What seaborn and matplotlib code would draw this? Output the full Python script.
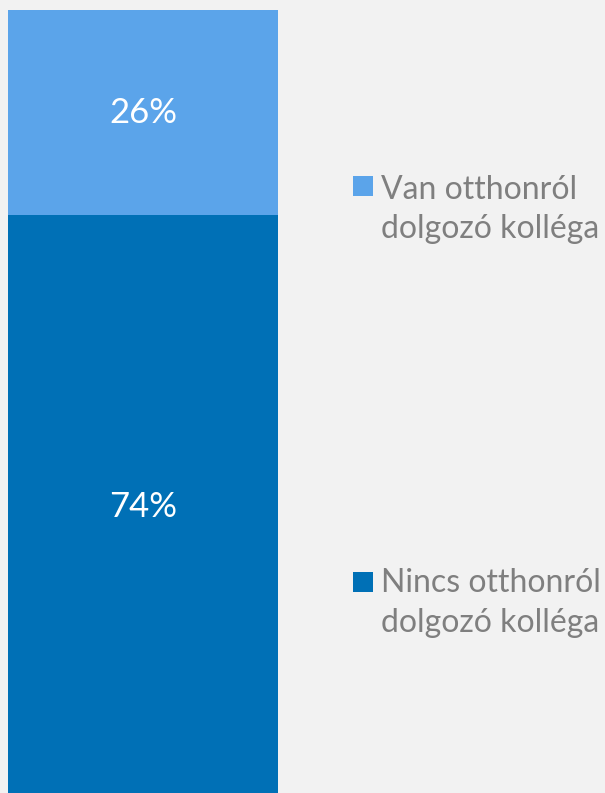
"""Single stacked bar: share of workplaces with a colleague working from home."""
import matplotlib
matplotlib.use('Agg')
import matplotlib.pyplot as plt
import seaborn as sns
from matplotlib.patches import Rectangle

# ---------------------------------------------------------------------------
# Data
# ---------------------------------------------------------------------------
categories = ['Nincs otthonról dolgozó kolléga', 'Van otthonról dolgozó kolléga']
legend_lines = [['Nincs otthonról', 'dolgozó kolléga'], ['Van otthonról', 'dolgozó kolléga']]
shares = [74, 26]          # percent, bottom -> top
colors = ['#0070B6', '#5BA4EA']

BG = '#F2F2F2'
TEXT_GREY = '#7F7F7F'
W, H = 605, 793

sns.set_theme(style='white')
plt.rcParams['font.family'] = ['Lato', 'DejaVu Sans']

fig = plt.figure(figsize=(W / 100, H / 100), dpi=100, facecolor=BG)
# bar occupies x 8..278 px, top at y=10 px, runs past bottom edge
ax = fig.add_axes([8 / W, 0, 270 / W, 1 - 10 / H])
ax.set_facecolor(BG)

# stacked: draw cumulative totals from the top segment down
cum = [sum(shares[:i + 1]) for i in range(len(shares))]
for i in reversed(range(len(shares))):
    sns.barplot(x=['all'], y=[cum[i]], color=colors[i], saturation=1,
                width=1, linewidth=0, ax=ax)

ax.set_xlim(-0.5, 0.5)
ax.set_ylim(0.7, 100)
ax.axis('off')

bottom = 0
for s in shares:
    ax.text(0, bottom + s / 2, f'{s}%', ha='center', va='center',
            color='white', fontsize=25)
    bottom += s

# ---------------------------------------------------------------------------
# Legend (manual, top entry first)
# ---------------------------------------------------------------------------
def fx(x):
    return x / W


def fy(y):
    return 1 - y / H


entries = [(legend_lines[1], colors[1], 176, 199),
           (legend_lines[0], colors[0], 572, 592)]
for lines, col, sq_top, base in entries:
    fig.add_artist(Rectangle((fx(353), fy(sq_top + 20)), 20 / W, 20 / H,
                             transform=fig.transFigure, facecolor=col,
                             edgecolor='none'))
    for j, line in enumerate(lines):
        fig.text(fx(381), fy(base + j * 39.5), line, ha='left', va='baseline',
                 color=TEXT_GREY, fontsize=23)

fig.savefig('out.png', dpi=100, facecolor=BG)
